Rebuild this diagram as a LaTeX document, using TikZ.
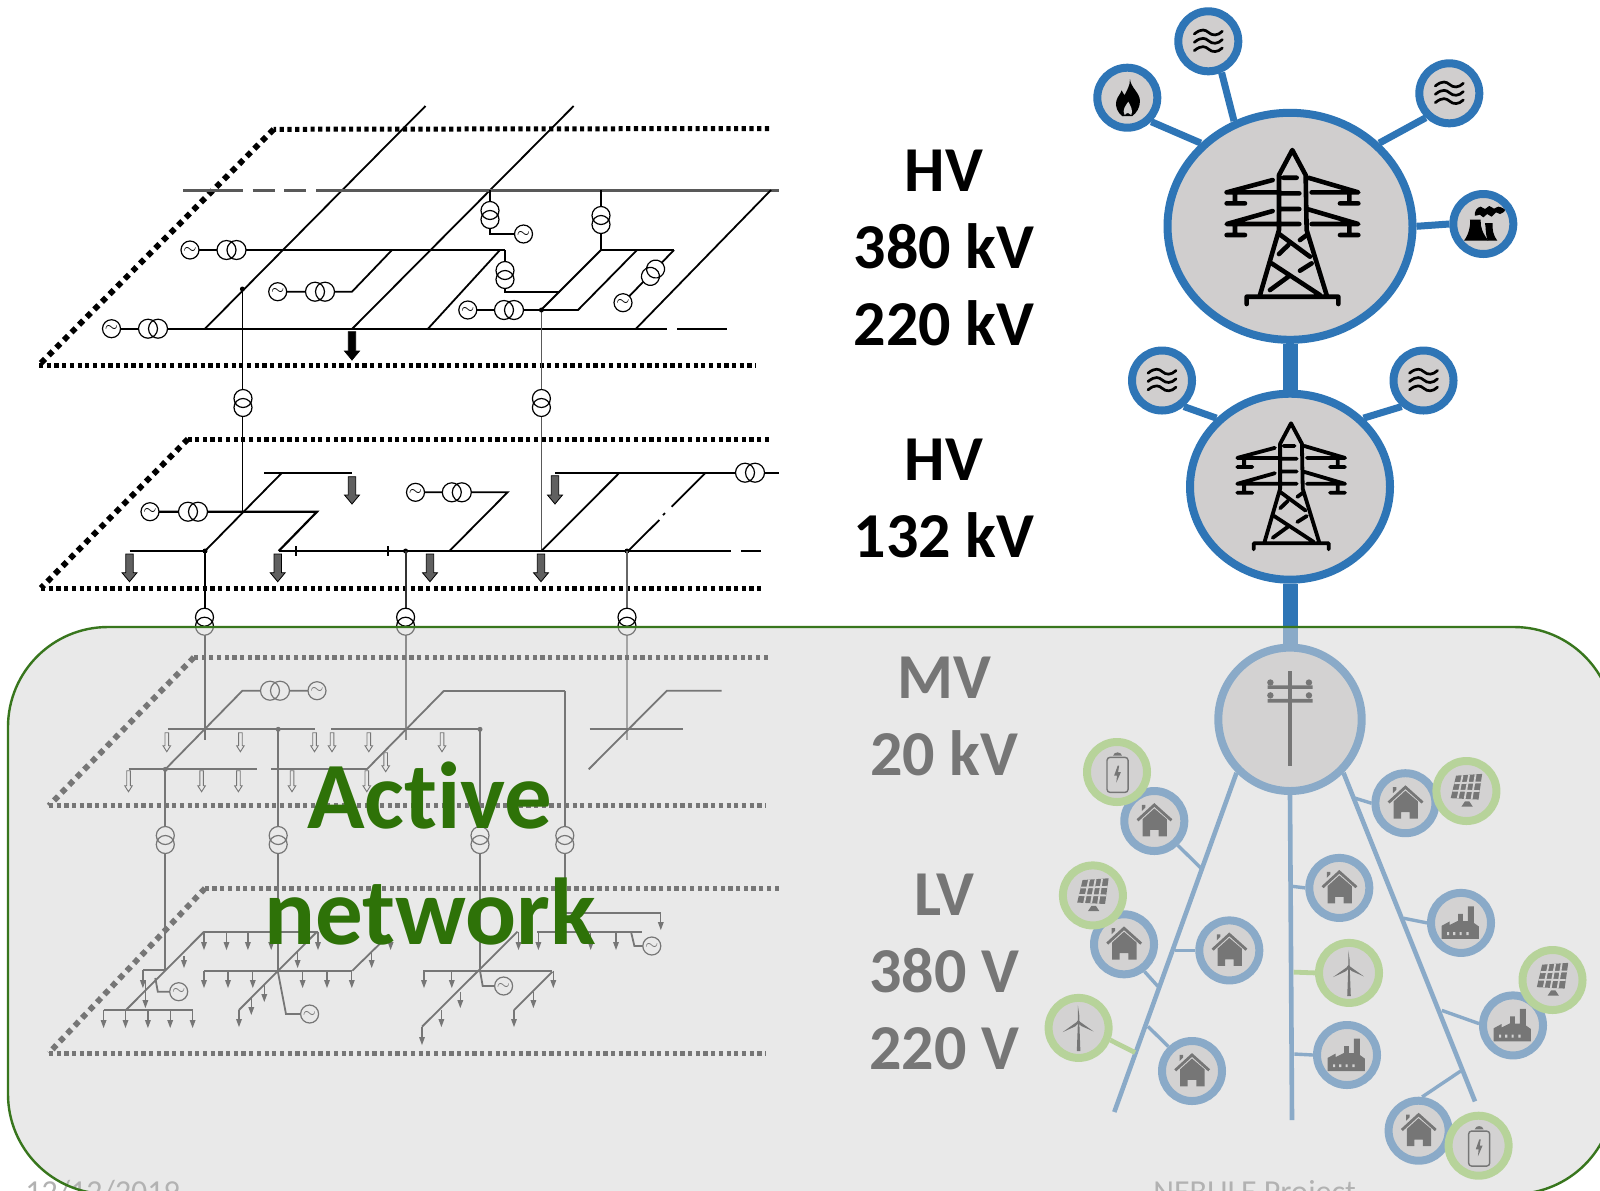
\documentclass[tikz,border=0pt]{standalone}
\usepackage{fontspec}
\setmainfont[Ligatures=NoCommon]{Carlito}
\usetikzlibrary{shapes.geometric}
\definecolor{hvblue}{RGB}{46,117,182}
\definecolor{rengreen}{RGB}{146,208,80}
\definecolor{disc}{RGB}{208,206,206}
\definecolor{activegreen}{RGB}{46,114,8}
\definecolor{borderg}{RGB}{56,118,29}
\definecolor{foot}{RGB}{178,178,178}
\definecolor{greyarrow}{RGB}{96,96,96}
\tikzset{
  wire/.style={line width=.9pt},
  bus/.style={line width=1.1pt},
  greybus/.style={line width=1.5pt,draw=black!65},
  dots/.style={line width=2.5pt,dash pattern=on 2.1pt off 1.75pt},
  ddots/.style={line width=2.9pt,dash pattern=on 2.9pt off 2.5pt},
  gen/.style={circle,draw,line width=.6pt,fill=white,minimum size=9pt,inner sep=0pt,font=\fontsize{8}{8}\selectfont},
  hub/.style={circle,draw=hvblue,fill=disc,line width=4pt,inner sep=0pt},
  bighub/.style={ellipse,draw=hvblue,fill=disc,line width=4pt,inner sep=0pt},
  sat/.style={hub,minimum size=30pt},
  res/.style={sat,draw=rengreen},
  link/.style={draw=hvblue,line width=3.5pt},
  twig/.style={draw=hvblue,line width=1.7pt},
  greentwig/.style={draw=rengreen,line width=2.4pt},
  trunk/.style={draw=hvblue,line width=2.3pt},
  lab/.style={font=\fontsize{32}{32}\bfseries\selectfont,inner sep=0pt},
  bigword/.style={font=\fontsize{47.5}{47.5}\bfseries\selectfont,text=activegreen,inner sep=0pt},
  foottext/.style={font=\fontsize{16}{16}\selectfont,text=foot,inner sep=0pt,anchor=north west},
  thoriz/.pic={
    \fill[white] (-5,0) circle (9.5) (5,0) circle (9.5);
    \draw[line width=.6pt] (-5,0) circle (9.5) (5,0) circle (9.5);
  },
  tvert/.pic={
    \fill[white] (0,-4.5) circle (9) (0,4.5) circle (9);
    \draw[line width=.6pt] (0,-4.5) circle (9) (0,4.5) circle (9);
  },
  tower/.pic={
    \draw[line cap=round,line join=round]
      (-97,205) -- (-40,10) -- (-40,-155) -- (0,-230) -- (40,-155) -- (43,10) -- (103,205)
      (-137,232) -- (-137,210) -- (138,210) -- (138,232)
      (-27,-147) -- (13,-147)
      (-37,-100) -- (21,-100)
      (-37,-53) -- (21,-53)
      (-59,-140) -- (-197,-103) -- (-37,-103)
      (-172,-103) -- (-172,-70)
      (-197,-70) -- (-142,-70)
      (-59,-47) -- (-197,-8) -- (21,-8)
      (-172,-8) -- (-172,25)
      (-197,25) -- (-142,25)
      (48,-147) -- (198,-103) -- (58,-103)
      (171,-103) -- (171,-70)
      (143,-70) -- (198,-70)
      (48,-52) -- (198,-8) -- (58,-8)
      (171,-8) -- (171,25)
      (143,25) -- (198,25)
      (-42,20) -- (53,90)
      (-62,110) -- (83,205)
      (43,25) -- (23,40)
      (-12,55) -- (-40,82)
      (58,110) -- (23,132)
      (-12,150) -- (-67,190);
  },
  water/.pic={
    \draw[line width=1.35pt,line cap=round]
      (-42,-22) .. controls (-20,-40) and (-8,-34) .. (0,-27) .. controls (12,-16) and (28,-16) .. (42,-30)
      (-42,3) .. controls (-20,-15) and (-8,-9) .. (0,-2) .. controls (12,9) and (28,9) .. (42,-5)
      (-42,28) .. controls (-20,10) and (-8,16) .. (0,23) .. controls (12,34) and (28,34) .. (42,20);
  },
  flame/.pic={
    \fill (8,-56) .. controls (10,-30) and (38,-15) .. (38,10) .. controls (38,30) and (28,45) .. (15,55)
      .. controls (-2,55) and (-15,55) .. (-14,56) .. controls (-30,45) and (-37,25) .. (-33,10)
      .. controls (-29,-5) and (-22,-8) .. (-17,-22) .. controls (-12,-12) and (-10,-10) .. (-8,-8)
      .. controls (0,-25) and (8,-35) .. (8,-56) -- cycle;
    \fill[disc] (3,12) .. controls (-6,25) and (-16,36) .. (-8,52) .. controls (0,42) and (6,46) .. (12,52)
      .. controls (18,38) and (10,25) .. (3,12) -- cycle;
  },
  plant/.pic={
    \fill (-58,50) .. controls (-42,30) and (-38,0) .. (-40,-13) -- (-8,-13) .. controls (-10,10) and (0,30) .. (15,50) -- cycle;
    \fill (5,-3) -- (28,-3) .. controls (26,15) and (30,35) .. (42,50) -- (13,50) .. controls (6,30) and (8,10) .. (5,-3) -- cycle;
    \fill plot[smooth cycle,tension=.7] coordinates {(-25,-25) (-22,-42) (-8,-52) (5,-45) (18,-54) (32,-46) (45,-52) (65,-42) (50,-30) (38,-35) (25,-22) (12,-30) (0,-20) (-10,-28)};
  },
  house/.pic={
    \fill (-33,43) -- (-33,-5) -- (0,-35) -- (35,-5) -- (35,43) -- (12,43) -- (12,25) -- (-12,25) -- (-12,43) -- cycle;
    \fill (-35,-45) -- (-25,-45) -- (-25,-38) -- (-35,-28) -- cycle;
    \draw[line width=1.4pt] (-47,-2) -- (0,-45) -- (48,-2);
  },
  factory/.pic={
    \fill (-54,45) -- (-54,8) -- (-32,-4) -- (-32,6) -- (-8,-6) -- (-8,-25) -- (5,-25) -- (5,-5) -- (19,-5)
      -- (19,-46) -- (36,-46) -- (36,0) -- (50,10) -- (50,45) -- cycle;
    \fill[disc] (-39,26) rectangle (-33,34) (-22,26) rectangle (-16,34) (-4,26) rectangle (2,34) (15,26) rectangle (21,34);
  },
  solar/.pic={
    \fill (-29,-43) -- (44,-48) -- (34,24) -- (-44,20) -- cycle;
    \draw[disc,line width=.9pt]
      (-10.75,-44.25) -- (-24.5,21) (7.5,-45.5) -- (-5,22) (25.75,-46.75) -- (14.5,23)
      (-34,-22) -- (41,-24) (-39,-1) -- (37,0);
    \fill (-14,44) -- (18,44) -- (8,29) -- (-4,29) -- cycle;
  },
  battery/.pic={
    \draw[line width=.7pt,rounded corners=1.5pt] (-28,-41) rectangle (31,57);
    \fill (-11,-46) .. controls (-8,-58) and (11,-58) .. (14,-46) -- cycle;
    \fill (2,-18) -- (-8,10) -- (0,10) -- (-2,30) -- (11,0) -- (3,0) -- (6,-18) -- cycle;
  },
  wind/.pic={
    \fill (-5,65) -- (5,65) -- (2,-15) -- (-2,-15) -- cycle;
    \fill (-1,-18) circle (4);
    \fill (-2,-15) -- (-2,-63) -- (2,-35) -- (2,-15) -- cycle;
    \fill (-2,-19) -- (-45,12) -- (-10,-4) -- (1,-14) -- cycle;
    \fill (0,-20) -- (42,10) -- (8,-5) -- (-3,-14) -- cycle;
  },
  pole/.pic={
    \fill (-6,-135) rectangle (6,130);
    \fill (-63,-95) rectangle (63,-85) (-63,-57) rectangle (63,-47);
    \fill (-55,-103) circle (9) (53,-103) circle (9) (-55,-67) circle (9) (53,-67) circle (9);
  },
}
\newcommand{\blockarrow}[4]{\draw[#4] (#1-3.7,#2) -- (#1+3.7,#2) -- (#1+3.7,#3-9) -- (#1+7.5,#3-9) -- (#1,#3) -- (#1-7.5,#3-9) -- (#1-3.7,#3-9) -- cycle;}
\newcommand{\openarrow}[3]{\draw[line width=.45pt,fill=white] (#1-1.8,#2) -- (#1+1.8,#2) -- (#1+1.8,#3-6) -- (#1+3.8,#3-6) -- (#1,#3) -- (#1-3.8,#3-6) -- (#1-1.8,#3-6) -- cycle;}
\newcommand{\droparrow}[3]{\draw[line width=.6pt] (#1,#2) -- (#1,#3-6); \fill (#1-3,#3-8) -- (#1+3,#3-8) -- (#1,#3) -- cycle;}
\begin{document}
\begin{tikzpicture}[x=.5pt,y=-.5pt]
\useasboundingbox (0,0) rectangle (1600,1190);
\clip (0,0) rectangle (1600,1190);
\fill[white] (0,0) rectangle (1600,1190);

% ---------- level HV 380/220
\draw[dots] (769,128.5) -- (273.7,129.3);
\draw[ddots] (273.7,129.3) -- (39,365);
\draw[dots] (39,365) -- (756,365);
\draw[wire] (425.5,106) -- (205,328.7);
\draw[wire] (573.7,106) -- (352.3,328.7);
\draw[greybus] (183,190) -- (243,190) (252.7,190) -- (274.7,190) (284,190) -- (306,190) (316,190) -- (779,190);
\draw[wire] (771,190) -- (636,328.7);
\draw[bus] (160,328.7) -- (667,328.7) (677,328.7) -- (726.5,328.7);
\draw[wire] (111.5,328.7) -- (153,328.7);
\draw[bus] (190,250) -- (505,250);
\draw[wire] (392,250) -- (352,291.7) -- (277.7,291.7);
\draw[wire] (500,250) -- (428,328.7);
\draw[wire] (505,250) -- (505,291.7) -- (560,291.7);
\draw[wire] (467.8,310) -- (578,310) -- (637,250);
\draw[bus] (601,250) -- (674,250);
\draw[wire] (601,250) -- (541,310);
\draw[wire] (601,190) -- (601,250);
\draw[wire] (490,190) -- (490,234) -- (523.5,234);
\draw[wire] (674,250) -- (623,302.7);
\draw[wire] (242.4,289) -- (242.4,511.7);
\draw[wire,draw=black!65] (541.4,310) -- (541.4,551);
\fill (242.4,289) circle (2.5) (541.4,310) circle (2.5);
\node[gen] (g1) at (111.5,328.7) {$\sim$};
\node[gen] (g2) at (190,250) {$\sim$};
\node[gen] (g3) at (277.7,291.7) {$\sim$};
\node[gen] (g4) at (467.8,310) {$\sim$};
\node[gen] (g5) at (523.5,234) {$\sim$};
\node[gen] (g6) at (623,302.7) {$\sim$};
\pic at (153,328.7) {thoriz};
\pic at (231.5,250) {thoriz};
\pic at (320,291.7) {thoriz};
\pic at (509,310) {thoriz};
\pic at (490,215) {tvert};
\pic at (601,220) {tvert};
\pic at (505,275) {tvert};
\pic[rotate=-35] at (653,272.7) {tvert};
\pic at (243,403) {tvert};
\pic at (541.4,403) {tvert};
\blockarrow{352}{331.7}{360}{fill=black,draw=black,line width=.4pt}

% ---------- level HV 132
\draw[dots] (769,439) -- (188,439);
\draw[ddots] (188,439) -- (41,588);
\draw[dots] (41,588) -- (761,588);
\draw[wire] (264,472.7) -- (352,472.7);
\draw[wire] (282,472.7) -- (205,551);
\draw[bus] (150,511.7) -- (317,511.7) -- (278.7,551);
\draw[bus] (129.5,551) -- (205,551);
\draw[bus] (278.7,551) -- (731.4,551) (741,551) -- (761,551);
\draw[wire] (296,546) -- (296,556) (388,546) -- (388,556);
\draw[wire] (415.5,492.3) -- (507.6,492.3) -- (449.4,551);
\draw[wire] (555,472.7) -- (778.7,472.7);
\draw[wire] (619.5,472.7) -- (541.4,551);
\draw[wire] (705.6,472.7) -- (671.7,506.7) (665,513) -- (663,515) (659.3,520) -- (628,551);
\fill (205,551) circle (2.5) (405.6,551) circle (2.5) (627,551) circle (2.5);
\draw[bus] (205,551) -- (205,740);
\draw[bus,draw=black!80] (405.6,551) -- (405.6,740);
\draw[wire,draw=black!60] (627,551) -- (627,740);
\node[gen] (g7) at (150,511.7) {$\sim$};
\node[gen] (g8) at (415.5,492.3) {$\sim$};
\pic at (193,511.7) {thoriz};
\pic at (456.8,492.3) {thoriz};
\pic at (750,472.7) {thoriz};
\pic at (204.5,621.7) {tvert};
\pic at (405.6,621.7) {tvert};
\pic at (627,621.7) {tvert};
\foreach \ax/\ay/\by in {352/476.7/504,555/475.7/504,129.5/554/581.7,277.7/554/581.7,430/554/581.7,541/554/581.7}{
  \blockarrow{\ax}{\ay}{\by}{fill=greyarrow,draw=black,line width=.4pt}}

% ---------- level MV
\draw[dots] (767.8,657.3) -- (194,657.3);
\draw[ddots] (194,657.3) -- (48.9,805.7);
\draw[dots] (48.9,805.7) -- (766,805.7);
\draw[bus] (167.8,729.3) -- (315,729.3) (331,729.3) -- (480,729.3) (589.6,729.3) -- (682.7,729.3);
\draw[wire] (317,690.7) -- (242.4,690.7) -- (165.3,769.3);
\draw[bus] (444,690.7) -- (564.8,690.7);
\draw[wire] (444,690.7) -- (366.8,769.3);
\draw[wire] (564.8,690.7) -- (564.8,912.7) -- (660.8,912.7);
\draw[wire] (721.5,690.7) -- (666.8,690.7) -- (588.7,769.3);
\draw[bus] (128.5,769.3) -- (257.3,769.3) (271,769.3) -- (366.8,769.3);
\fill (165.3,769.3) circle (2.5) (278.2,729.3) circle (2.5) (480,729.3) circle (2.5);
\draw[wire] (165.3,769.3) -- (165.3,970);
\draw[wire] (278.2,729.3) -- (278.2,970);
\draw[wire] (480,729.3) -- (480,970);
\node[gen] (g9) at (317,690.7) {$\sim$};
\pic at (275,690.7) {thoriz};
\pic at (165.3,840) {tvert};
\pic at (278.2,840) {tvert};
\pic at (480,840) {tvert};
\pic at (564.8,840) {tvert};
\foreach \ax in {166.8,240.4,314.5,332,368.8,442}{\openarrow{\ax}{732.7}{751.7}}
\openarrow{385.7}{752.7}{771.7}
\foreach \ax in {128.5,201.6,238.4,292,366.8}{\openarrow{\ax}{770.7}{791.7}}

% ---------- level LV
\draw[dots] (778.7,888.3) -- (205,888.3);
\draw[ddots] (205,888.3) -- (48.9,1053);
\draw[dots] (48.9,1053) -- (766,1053);
\draw[bus] (204,931.7) -- (318,931.7);
\draw[wire] (204,931.7) -- (126,1010);
\draw[bus] (103.6,1010) -- (192.6,1010);
\draw[bus] (142.9,970) -- (165.3,970);
\draw[wire] (155.3,978) -- (157.8,991.7) -- (178.7,991.7);
\draw[bus] (204,970.7) -- (352.3,970.7);
\draw[wire] (317,931.7) -- (239,1010);
\draw[wire] (277.7,970.7) -- (286,1014) -- (309.6,1014);
\draw[wire] (385.7,938) -- (352.3,970.7);
\draw[bus] (537.4,931.7) -- (642,931.7);
\draw[wire] (517.5,931.7) -- (422,1026.7);
\draw[wire] (631,931.7) -- (634.4,946) -- (651.8,946);
\draw[bus] (423,970.7) -- (552.3,970.7);
\draw[wire] (552.3,971.7) -- (514,1010);
\draw[wire] (480,970.7) -- (482.7,986) -- (503.6,986);
\foreach \ax in {103.6,125.5,147.9,170.2,192.6}{\droparrow{\ax}{1010}{1028}}
\foreach \ax in {204,226.5,247.9,271.2,318,538.4,590.7,616,518.5}{\droparrow{\ax}{931.7}{950}}
\foreach \ax in {204,228,252.8,302.6,327,351.8,424,451.8,553.3}{\droparrow{\ax}{970.7}{988}}
\droparrow{142.9}{970}{988}
\droparrow{184}{956}{968}
\droparrow{145.4}{980}{1008}
\droparrow{297.6}{951.7}{968}
\droparrow{264.3}{985}{1002}
\droparrow{251.3}{998}{1015}
\droparrow{239}{1010}{1027}
\droparrow{390.6}{938}{950}
\droparrow{371.7}{953}{968}
\droparrow{422}{1026.7}{1045}
\droparrow{460.3}{991.7}{1008}
\droparrow{441.4}{1010}{1027}
\droparrow{514}{1010}{1027}
\droparrow{533.4}{991.7}{1008}
\droparrow{660.8}{912.7}{930}
\node[gen] (g10) at (178.7,991.7) {$\sim$};
\node[gen] (g11) at (309.6,1014) {$\sim$};
\node[gen] (g12) at (503.6,986) {$\sim$};
\node[gen] (g13) at (651.8,946) {$\sim$};

% ---------- labels
\node[lab] (l1) at (944,171) {HV};
\node[lab] (l2) at (944,246.5) {380 kV};
\node[lab] (l3) at (944,323) {220 kV};
\node[lab] (l4) at (944,460) {HV};
\node[lab] (l5) at (944,535.5) {132 kV};
\node[lab] (l6) at (944,678) {MV};
\node[lab] (l7) at (944,753) {20 kV};
\node[lab] (l8) at (944,895) {LV};
\node[lab] (l9) at (944,970.5) {380 V};
\node[lab] (l10) at (944,1048.5) {220 V};

% ---------- upper hubs
\node[bighub,minimum width=122.5pt,minimum height=113.5pt] (hv) at (1290,226.3) {};
\node[bighub,minimum width=100pt,minimum height=93pt] (sub) at (1290,486.7) {};
\node[sat] (fl) at (1127.3,97.7) {};
\node[sat] (w1) at (1208.3,41.3) {};
\node[sat] (w2) at (1449.3,93.3) {};
\node[sat] (pl) at (1483.3,224) {};
\node[sat] (w3) at (1162,380.5) {};
\node[sat] (w4) at (1423.5,380.5) {};
\draw[link] (fl.-45) -- (hv.137.6);
\draw[link] (w1.-67) -- (hv.118);
\draw[link] (w2.226) -- (hv.43);
\draw[link] (pl.180) -- (hv.0);
\draw[link] (w3.-50) -- (sub.137);
\draw[link] (w4.230) -- (sub.43);
\draw[hvblue,line width=7.5pt] (hv.270) -- (sub.90);
\pic[scale=.3333,line width=2.3pt] at (1292.3,226.7) {tower};
\pic[scale=.2727,line width=1.9pt] at (1291,486) {tower};
\pic[scale=.3333] at (fl) {flame};
\pic[scale=.3333] at (w1) {water};
\pic[scale=.3333] at (w2) {water};
\pic[scale=.3333] at (pl) {plant};
\pic[scale=.3333] at (w3) {water};
\pic[scale=.3333] at (w4) {water};

% ---------- lower hubs
\node[hub,minimum size=71.7pt] (mv) at (1290,719.3) {};
\draw[hvblue,line width=7.5pt] (sub.270) -- (mv.90);
\coordinate (tl) at (1114.3,1112);
\coordinate (tc) at (1292,1120);
\coordinate (tr) at (1475,1101.4);
\draw[trunk] (mv.225.4) -- (tl);
\draw[trunk] (mv.-90) -- (tc);
\draw[trunk] (mv.-45.4) -- (tr);
\coordinate (a1) at (1201.5,868.6);
\coordinate (a2) at (1157.9,986.4);
\coordinate (a3) at (1175,950.4);
\coordinate (a4) at (1135,1052.5);
\coordinate (a5) at (1147.9,1026.4);
\coordinate (b1) at (1293,886.4);
\coordinate (b2) at (1293.6,972.1);
\coordinate (b3) at (1294.3,1054);
\coordinate (c1) at (1354.3,797.9);
\coordinate (c2) at (1403.6,918.2);
\coordinate (c3) at (1441.8,1010.4);
\coordinate (c4) at (1460.7,1071);
\node[sat] (h1) at (1154.3,821) {};
\node[sat] (h2) at (1124,944.3) {};
\node[sat] (h3) at (1229.3,950.4) {};
\node[sat] (h4) at (1192,1071) {};
\node[sat] (h5) at (1339.3,887.9) {};
\node[sat] (f1) at (1347,1055) {};
\node[sat] (h6) at (1405.4,803.2) {};
\node[sat] (f2) at (1461,922.9) {};
\node[sat] (f3) at (1513,1025.4) {};
\node[sat] (h7) at (1418.6,1130.7) {};
\node[res] (bt1) at (1117,772) {};
\node[res] (so1) at (1092.9,895.4) {};
\node[res] (wi1) at (1078.6,1027.9) {};
\node[res] (wi2) at (1349,972.9) {};
\node[res] (so2) at (1466.4,791) {};
\node[res] (so3) at (1552.5,980) {};
\node[res] (bt2) at (1478.6,1145.7) {};
\draw[twig] (h1.-46) -- (a1);
\draw[twig] (h2.-53) -- (a2);
\draw[twig] (h3.180) -- (a3);
\draw[greentwig] (wi1.-21) -- (a4);
\draw[twig] (h4.134) -- (a5);
\draw[twig] (h5.180) -- (b1);
\draw[greentwig] (wi2.180) -- (b2);
\draw[twig] (f1.180) -- (b3);
\draw[twig] (h6.180) -- (c1);
\draw[twig] (f2.180) -- (c2);
\draw[twig] (f3.177) -- (c3);
\draw[twig] (h7.84) -- (c4);
\foreach \n in {h1,h2,h3,h4,h5,h6,h7}{\pic[scale=.3571] at (\n) {house};}
\foreach \n in {f1,f2,f3}{\pic[scale=.3571] at (\n) {factory};}
\foreach \n in {so1,so2,so3}{\pic[scale=.3571] at (\n) {solar};}
\foreach \n in {bt1,bt2}{\pic[scale=.3571] at (\n) {battery};}
\foreach \n in {wi1,wi2}{\pic[scale=.3571] at (\n) {wind};}
\pic[scale=.3571] at (mv) {pole};

% ---------- overlay
\fill[fill={rgb,255:red,215;green,215;blue,215},opacity=.55,rounded corners=50pt] (8,627) rectangle (1614,1194);
\node[foottext] (d) at (25,1180) {12/12/2019};
\node[foottext] (p) at (1153,1180) {NEBULE Project};
\draw[borderg,line width=1.2pt,rounded corners=50pt] (8,627) rectangle (1614,1194);
\node[bigword] (act) at (430,796) {Active};
\node[bigword] (net) at (430,911) {network};
\end{tikzpicture}
\end{document}
